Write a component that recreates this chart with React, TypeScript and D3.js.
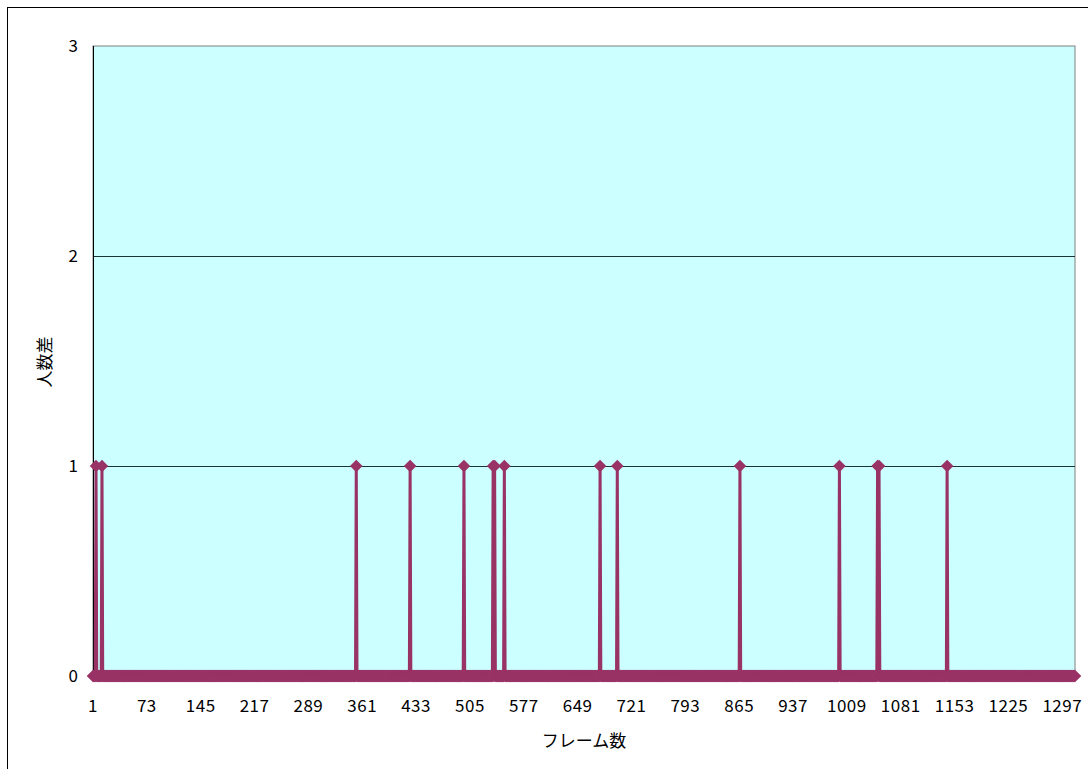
import { useEffect, useRef } from "react";
import * as d3 from "d3";

// frame numbers 1..frameCount, value is 0 everywhere except these frames (value 1)
const frameCount = 1314;
const spikeFrames = [5, 13, 353, 425, 497, 536, 538, 551, 679, 702, 866, 999, 1050, 1052, 1143];
const spikeValues = [1, 1, 1, 1, 1, 1, 1, 1, 1, 1, 1, 1, 1, 1, 1];
const yTicks = [0, 1, 2, 3];
const xTickStep = 72;

const xTitle = "フレーム数";
const yTitle = "人数差";

export default function App() {
    const svgRef = useRef<SVGSVGElement | null>(null);

    const width = 1088;
    const height = 769;

    const plot = { left: 93, top: 46, right: 1075, bottom: 676 };

    useEffect(() => {
        const svg = d3.select(svgRef.current);
        svg.selectAll('*').remove();

        const frames = d3.range(1, frameCount + 1);
        const values = frames.map(f => {
            const i = spikeFrames.indexOf(f);
            return i >= 0 ? spikeValues[i] : 0;
        });
        const data = frames.map((f, i) => ({ frame: f, value: values[i] }));

        const xScale = d3.scaleLinear()
            .domain([1, frameCount])
            .range([plot.left, plot.right]);
        const yScale = d3.scaleLinear()
            .domain([0, 3])
            .range([plot.bottom, plot.top]);

        // outer chart border
        svg.append('rect')
            .attr('x', 7.5).attr('y', 7.5)
            .attr('width', 1100).attr('height', 800)
            .attr('fill', 'white')
            .attr('stroke', 'black')
            .attr('stroke-width', 1);

        // plot area
        svg.append('rect')
            .attr('x', plot.left).attr('y', plot.top)
            .attr('width', plot.right - plot.left)
            .attr('height', plot.bottom - plot.top)
            .attr('fill', '#CCFFFF')
            .attr('stroke', '#808080')
            .attr('stroke-width', 1);

        // gridlines
        svg.append('g')
            .selectAll('line')
            .data(yTicks.filter(t => t > 0 && t < 3))
            .join('line')
            .attr('x1', plot.left).attr('x2', plot.right)
            .attr('y1', d => Math.round(yScale(d)) + 0.5)
            .attr('y2', d => Math.round(yScale(d)) + 0.5)
            .attr('stroke', '#1a3333')
            .attr('stroke-width', 1);

        // left axis line
        svg.append('line')
            .attr('x1', plot.left + 0.5).attr('x2', plot.left + 0.5)
            .attr('y1', plot.top).attr('y2', plot.bottom)
            .attr('stroke', '#000');

        const font = '"Noto Sans CJK JP", "Noto Sans", sans-serif';

        // y tick labels
        svg.append('g')
            .selectAll('text')
            .data(yTicks)
            .join('text')
            .attr('x', plot.left - 15)
            .attr('y', d => yScale(d))
            .attr('dy', '0.36em')
            .attr('text-anchor', 'end')
            .style('font-family', font)
            .style('font-size', '17px')
            .text(d => d);

        // x tick labels
        const xTicks = frames.filter(f => (f - 1) % xTickStep === 0);
        svg.append('g')
            .selectAll('text')
            .data(xTicks)
            .join('text')
            .attr('x', d => xScale(d))
            .attr('y', 712)
            .attr('text-anchor', 'middle')
            .style('font-family', font)
            .style('font-size', '17px')
            .style('letter-spacing', '0.5px')
            .text(d => d);

        // titles
        svg.append('text')
            .attr('x', 584).attr('y', 747)
            .attr('text-anchor', 'middle')
            .style('font-family', font)
            .style('font-size', '17px')
            .text(xTitle);
        svg.append('text')
            .attr('transform', `translate(51, 362) rotate(-90)`)
            .attr('text-anchor', 'middle')
            .style('font-family', font)
            .style('font-size', '17px')
            .text(yTitle);

        const line = d3.line<{ frame: number; value: number }>()
            .x(d => xScale(d.frame))
            .y(d => yScale(d.value));

        svg.append('path')
            .datum(data)
            .attr('fill', 'none')
            .attr('stroke', '#993366')
            .attr('stroke-width', 3)
            .attr('stroke-linejoin', 'round')
            .attr('d', line);

        const marker = d3.symbol().type(d3.symbolSquare).size(78);
        svg.append('g')
            .selectAll('path')
            .data(data)
            .join('path')
            .attr('d', marker)
            .attr('transform', d => `translate(${xScale(d.frame)},${yScale(d.value)}) rotate(45)`)
            .attr('fill', '#993366');
    }, []);

    return (
        <svg
            ref={svgRef}
            width={width}
            height={height}
            style={{ position: 'absolute', left: 0, top: 0, display: 'block' }}
        />
    );
}
